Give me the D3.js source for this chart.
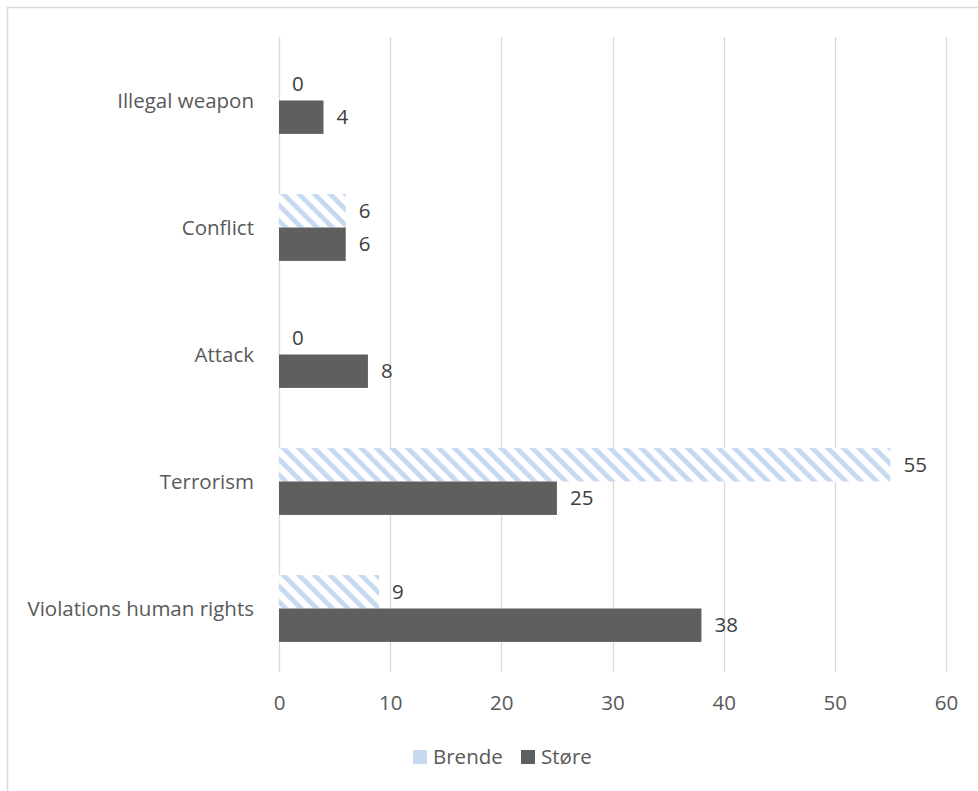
<!DOCTYPE html>
<html>
<head>
<meta charset="utf-8">
<script src="https://cdn.jsdelivr.net/npm/d3@7"></script>
<style>
  html, body { margin: 0; padding: 0; background: #fff; }
  svg { display: block; }
  text { font-family: "Open Sans", sans-serif; }
</style>
</head>
<body>
<svg id="chart" width="978" height="791"></svg>
<script>
// Mentions per topic, by speaker
const categories = ["Illegal weapon", "Conflict", "Attack", "Terrorism", "Violations human rights"];
const brende = [0, 6, 0, 55, 9];
const store = [4, 6, 8, 25, 38];
const seriesNames = ["Brende", "Støre"];
const xTicks = [0, 10, 20, 30, 40, 50, 60];

const svg = d3.select("#chart");
const W = 978, H = 791;
const plot = { left: 279, right: 946, top: 37, bottom: 672 };
const FONT = "'Open Sans', sans-serif";
const FS = 20.5;

// Diagonal stripe fill for the first series
const defs = svg.append("defs");
const pat = defs.append("pattern")
  .attr("id", "stripes")
  .attr("patternUnits", "userSpaceOnUse")
  .attr("width", 11).attr("height", 11)
  .attr("patternTransform", "rotate(-45)");
pat.append("rect").attr("width", 11).attr("height", 11).attr("fill", "#ffffff");
pat.append("rect").attr("x", 0).attr("width", 4.8).attr("height", 11).attr("fill", "#c6d9f0");

// Chart frame
svg.append("rect")
  .attr("x", 7.5).attr("y", 7.5)
  .attr("width", W + 10).attr("height", H + 10)
  .attr("fill", "none").attr("stroke", "#d9d9d9").attr("stroke-width", 1.5);

const x = d3.scaleLinear().domain([0, 60]).range([plot.left, plot.right]);
const y = d3.scaleBand().domain(categories).range([plot.top, plot.bottom]).paddingInner(0).paddingOuter(0);
const groupH = y.bandwidth() / 1.9;
const inner = d3.scaleBand().domain(seriesNames).range([0, groupH]);

// Gridlines
svg.append("g")
  .selectAll("line")
  .data(xTicks)
  .join("line")
  .attr("x1", d => Math.round(x(d)) + 0.5)
  .attr("x2", d => Math.round(x(d)) + 0.5)
  .attr("y1", plot.top)
  .attr("y2", plot.bottom)
  .attr("stroke", "#d9d9d9")
  .attr("stroke-width", 1.3);

// X axis tick labels
const xAxis = d3.axisBottom(x).tickValues(xTicks).tickSize(0).tickPadding(0);
const gx = svg.append("g").attr("transform", `translate(0,${plot.bottom})`).call(xAxis);
gx.select(".domain").remove();
gx.selectAll("text")
  .attr("dy", "0.35em")
  .attr("y", 31)
  .attr("font-size", FS)
  .attr("font-family", FONT)
  .attr("fill", "#595959");

// Category labels
const yAxis = d3.axisLeft(y).tickSize(0).tickPadding(25);
const gy = svg.append("g").attr("transform", `translate(${plot.left},0)`).call(yAxis);
gy.select(".domain").remove();
gy.selectAll("text")
  .attr("dy", "0.35em")
  .attr("font-size", FS)
  .attr("font-family", FONT)
  .attr("fill", "#595959");

// Bars and value labels
const rows = categories.map((c, i) => ({ cat: c, vals: [brende[i], store[i]] }));
const fills = ["url(#stripes)", "#5f5f5f"];
const grp = svg.append("g").selectAll("g").data(rows).join("g")
  .attr("transform", d => `translate(0,${y(d.cat) + (y.bandwidth() - groupH) / 2})`);

grp.selectAll("rect")
  .data(d => d.vals.map((v, k) => ({ v, k })))
  .join("rect")
  .attr("x", x(0))
  .attr("y", d => inner(seriesNames[d.k]))
  .attr("width", d => x(d.v) - x(0))
  .attr("height", inner.bandwidth())
  .attr("fill", d => fills[d.k]);

grp.selectAll("text")
  .data(d => d.vals.map((v, k) => ({ v, k })))
  .join("text")
  .attr("x", d => x(d.v) + 13)
  .attr("y", d => inner(seriesNames[d.k]) + inner.bandwidth() / 2)
  .attr("dy", "0.35em")
  .attr("font-size", FS)
  .attr("fill", "#404040")
  .text(d => d.v);

// Legend
const legend = svg.append("g").attr("transform", "translate(413,757)");
const legendItems = [
  { name: seriesNames[0], color: "#c6d9f0", x: 0 },
  { name: seriesNames[1], color: "#5f5f5f", x: 108 }
];
const li = legend.selectAll("g").data(legendItems).join("g")
  .attr("transform", d => `translate(${d.x},0)`);
li.append("rect").attr("x", 0).attr("y", -7).attr("width", 14).attr("height", 14).attr("fill", d => d.color);
li.append("text").attr("x", 20).attr("dy", "0.35em")
  .attr("font-size", FS).attr("fill", "#595959").text(d => d.name);
</script>
</body>
</html>
